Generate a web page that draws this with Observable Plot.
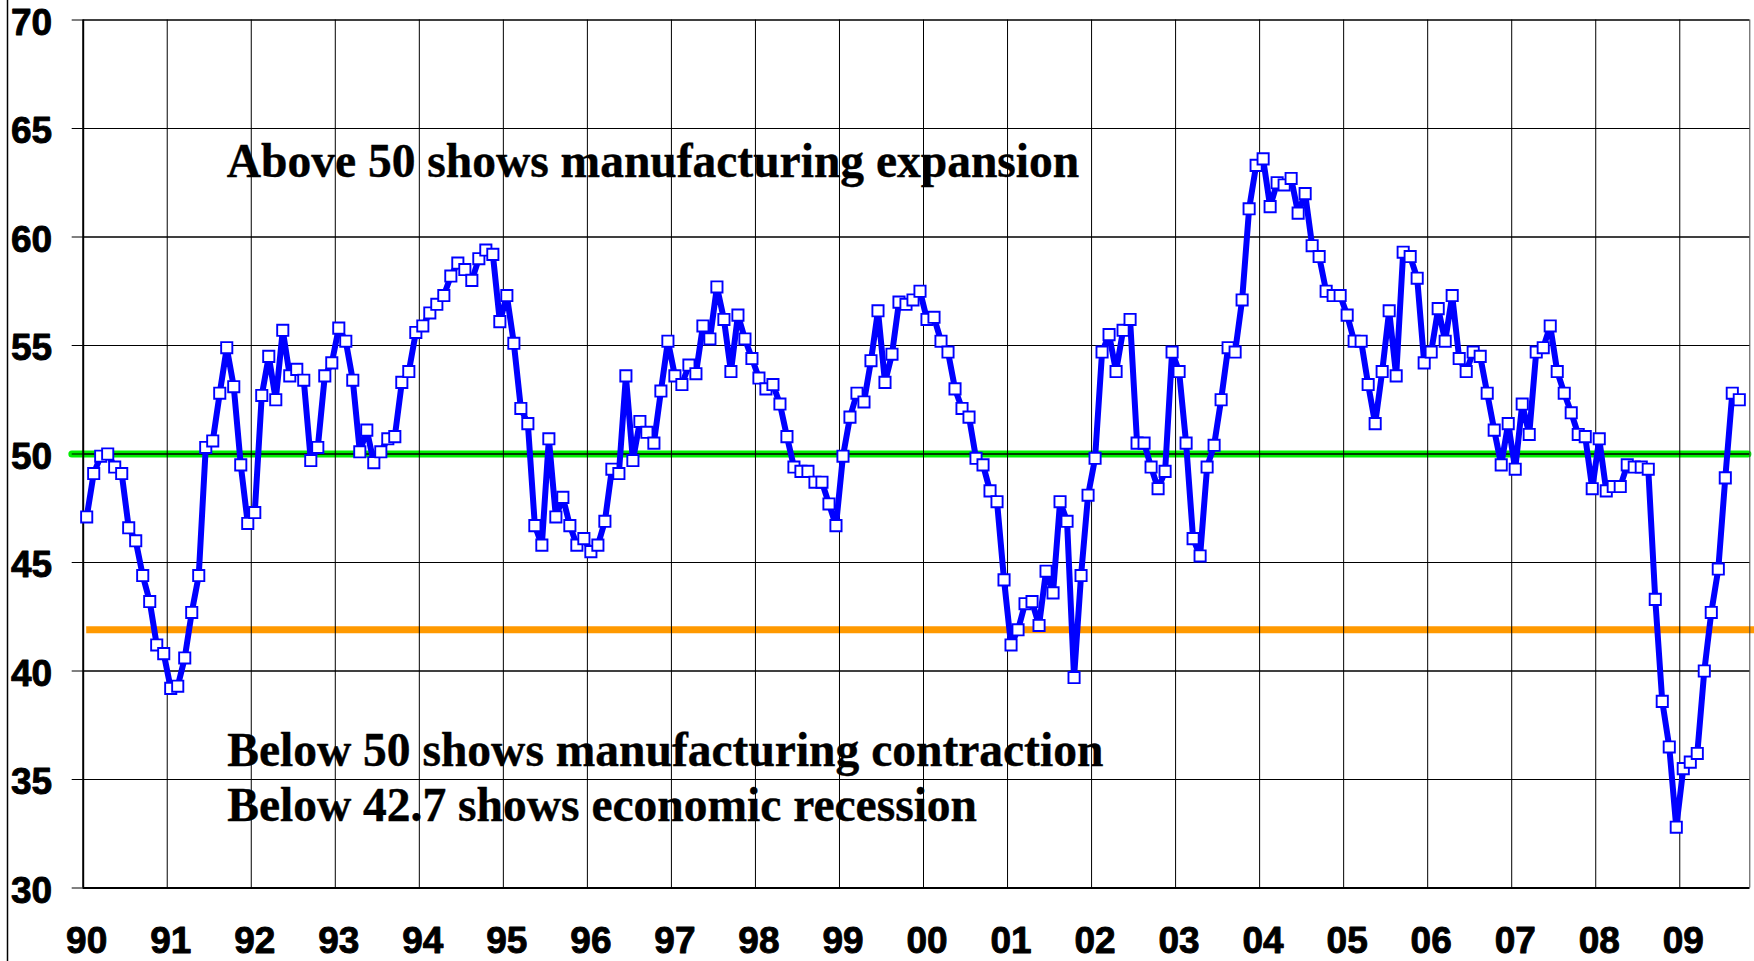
<!DOCTYPE html>
<html>
<head>
<meta charset="utf-8">
<script src="https://cdn.jsdelivr.net/npm/d3@7"></script>
<script src="https://cdn.jsdelivr.net/npm/@observablehq/plot@0.6"></script>
<style>
  html, body { margin: 0; padding: 0; background: #fff; }
  #chart { width: 1754px; height: 961px; overflow: hidden; }
</style>
</head>
<body>
<div id="chart"></div>
<script>
// ---- Data (ISM manufacturing index, monthly, Jan 1990 – Sep 2009) ----
const startYear = 1990;
const yearLabels = ["90","91","92","93","94","95","96","97","98","99","00","01","02","03","04","05","06","07","08","09"];
const yTicks = [30, 35, 40, 45, 50, 55, 60, 65, 70];

const pmi1990 = [47.1, 49.1, 49.9, 50.0, 49.4, 49.1, 46.6, 46.0, 44.4, 43.2, 41.2, 40.8];
const pmi1991 = [39.2, 39.3, 40.6, 42.7, 44.4, 50.3, 50.6, 52.8, 54.9, 53.1, 49.5, 46.8];
const pmi1992 = [47.3, 52.7, 54.5, 52.5, 55.7, 53.6, 53.9, 53.4, 49.7, 50.3, 53.6, 54.2];
const pmi1993 = [55.8, 55.2, 53.4, 50.1, 51.1, 49.6, 50.1, 50.7, 50.8, 53.3, 53.8, 55.6];
const pmi1994 = [55.9, 56.5, 56.9, 57.3, 58.2, 58.8, 58.5, 58.0, 59.0, 59.4, 59.2, 56.1];
const pmi1995 = [57.3, 55.1, 52.1, 51.4, 46.7, 45.8, 50.7, 47.1, 48.0, 46.7, 45.8, 46.1];
const pmi1996 = [45.5, 45.8, 46.9, 49.3, 49.1, 53.6, 49.7, 51.5, 51.0, 50.5, 52.9, 55.2];
const pmi1997 = [53.6, 53.2, 54.1, 53.7, 55.9, 55.3, 57.7, 56.2, 53.8, 56.4, 55.3, 54.4];
const pmi1998 = [53.5, 53.0, 53.2, 52.3, 50.8, 49.4, 49.2, 49.2, 48.7, 48.7, 47.7, 46.7];
const pmi1999 = [49.9, 51.7, 52.8, 52.4, 54.3, 56.6, 53.3, 54.6, 57.0, 56.9, 57.1, 57.5];
const pmi2000 = [56.2, 56.3, 55.2, 54.7, 53.0, 52.1, 51.7, 49.8, 49.5, 48.3, 47.8, 44.2];
const pmi2001 = [41.2, 41.9, 43.1, 43.2, 42.1, 44.6, 43.6, 47.8, 46.9, 39.7, 44.4, 48.1];
const pmi2002 = [49.8, 54.7, 55.5, 53.8, 55.7, 56.2, 50.5, 50.5, 49.4, 48.4, 49.2, 54.7];
const pmi2003 = [53.8, 50.5, 46.1, 45.3, 49.4, 50.4, 52.5, 54.9, 54.7, 57.1, 61.3, 63.3];
const pmi2004 = [63.6, 61.4, 62.5, 62.4, 62.7, 61.1, 62.0, 59.6, 59.1, 57.5, 57.3, 57.3];
const pmi2005 = [56.4, 55.2, 55.2, 53.2, 51.4, 53.8, 56.6, 53.6, 59.3, 59.1, 58.1, 54.2];
const pmi2006 = [54.7, 56.7, 55.2, 57.3, 54.4, 53.8, 54.7, 54.5, 52.8, 51.1, 49.5, 51.4];
const pmi2007 = [49.3, 52.3, 50.9, 54.7, 54.9, 55.9, 53.8, 52.8, 51.9, 50.9, 50.8, 48.4];
const pmi2008 = [50.7, 48.3, 48.5, 48.5, 49.5, 49.4, 49.4, 49.3, 43.3, 38.6, 36.5, 32.8];
const pmi2009 = [35.5, 35.8, 36.2, 40.0, 42.7, 44.7, 48.9, 52.8, 52.5];

const expansionLevel = 50;
const recessionLevel = 41.9;
const slotCount = 238; // monthly category slots on the axis (Jan 1990 – Oct 2009)

const noteAbove = "Above 50 shows manufacturing expansion";
const noteBelow1 = "Below 50 shows manufacturing contraction";
const noteBelow2 = "Below 42.7 shows economic recession";

// ---- Build table ----
const pmi = [].concat(pmi1990, pmi1991, pmi1992, pmi1993, pmi1994, pmi1995, pmi1996,
  pmi1997, pmi1998, pmi1999, pmi2000, pmi2001, pmi2002, pmi2003, pmi2004, pmi2005,
  pmi2006, pmi2007, pmi2008, pmi2009);
const rows = pmi.map((v, i) => ({slot: i + 0.5, value: v}));
const yearStarts = yearLabels.map((d, k) => k * 12);
const inner = yearStarts.slice(1);

const labelFont = "'Liberation Sans', Arial, sans-serif";
const noteFont = "'Liberation Serif', 'Times New Roman', serif";
const labelStyle = {fontSize: 37, fontWeight: "bold", fontFamily: labelFont, fill: "#000", stroke: "#000", strokeWidth: 0.9};
const noteStyle = {frameAnchor: "top-left", lineAnchor: "bottom", textAnchor: "start", fontSize: 47.5,
  fontWeight: "bold", fontFamily: noteFont, fill: "#000", stroke: "#000", strokeWidth: 0.4};

const chart = Plot.plot({
  width: 1754,
  height: 961,
  marginLeft: 82.7,
  marginRight: 4.7,
  marginTop: 19.5,
  marginBottom: 73.5,
  style: {fontFamily: labelFont, background: "#fff", overflow: "visible"},
  x: {type: "linear", domain: [0, slotCount], axis: null},
  y: {domain: [30, 70], axis: null},
  marks: [
    Plot.ruleY([recessionLevel], {x1: 0.5, x2: 238.7, stroke: "#ff9900", strokeWidth: 7}),
    Plot.ruleY([expansionLevel], {x1: -1.55, x2: 237.8, stroke: "#00ee00", strokeWidth: 7, strokeLinecap: "round"}),
    Plot.ruleY(yTicks, {stroke: "#000", strokeWidth: 1}),
    Plot.ruleX(inner, {stroke: "#000", strokeWidth: 1}),
    Plot.ruleX([slotCount], {stroke: "#444", strokeWidth: 1}),
    Plot.ruleX([0], {stroke: "#000", strokeWidth: 2}),
    Plot.ruleY([30], {stroke: "#000", strokeWidth: 2}),
    Plot.tickY(yTicks, {y: d => d, frameAnchor: "left", x1: 0, x2: 0, stroke: "#000"}),
    Plot.axisY({ticks: yTicks, tickSize: 11, tickFormat: () => "", label: null, stroke: "#000"}),
    Plot.text(yTicks, {y: d => d, frameAnchor: "left", text: d => String(d), dx: -31, dy: 3,
      textAnchor: "end", lineAnchor: "middle", ...labelStyle}),
    Plot.line(rows, {x: "slot", y: "value", stroke: "#0000ff", strokeWidth: 6, strokeLinejoin: "round"}),
    Plot.dot(rows, {x: "slot", y: "value", symbol: "square", r: 6.3, fill: "#fff", stroke: "#0000ff", strokeWidth: 1.9}),
    Plot.text(yearLabels, {x: (d, k) => yearStarts[k] + 0.5, frameAnchor: "bottom", text: d => d,
      dy: 65, lineAnchor: "bottom", textAnchor: "middle", ...labelStyle}),
    Plot.text([noteAbove], {text: d => d, dx: 143.5, dy: 156.5, ...noteStyle}),
    Plot.text([noteBelow1], {text: d => d, dx: 144, dy: 745.5, ...noteStyle}),
    Plot.text([noteBelow2], {text: d => d, dx: 144, dy: 800.5, ...noteStyle})
  ]
});

// chart-area border on the far left
d3.select(chart).append("line")
  .attr("x1", 7.5).attr("x2", 7.5).attr("y1", 0).attr("y2", 961)
  .attr("stroke", "#000").attr("stroke-width", 1.5);

document.getElementById("chart").appendChild(chart);
</script>
</body>
</html>
